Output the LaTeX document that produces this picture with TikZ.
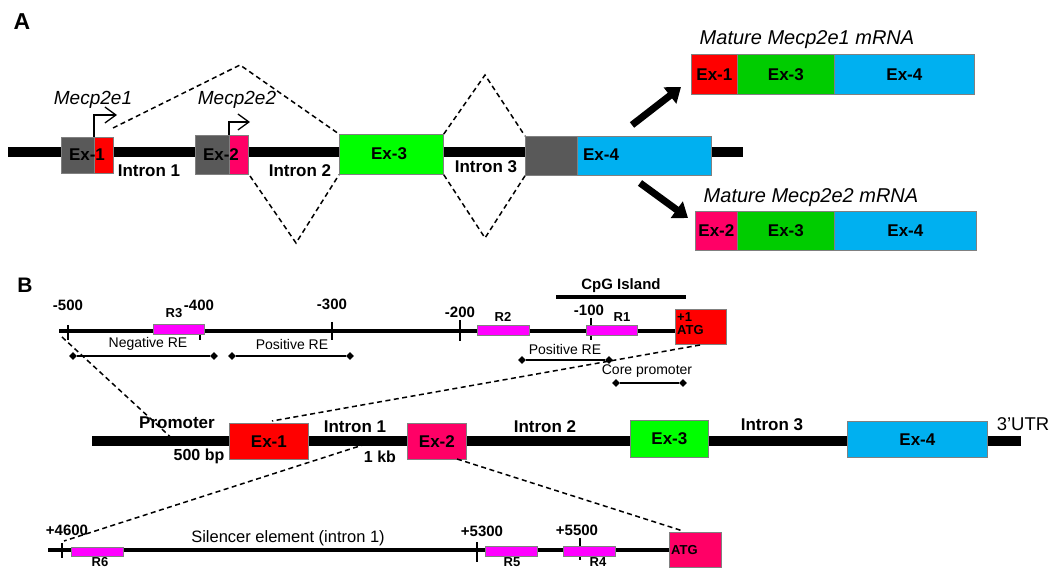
\documentclass[tikz,border=0pt]{standalone}
\usepackage{fontspec}
\setmainfont{Liberation Sans}
\usetikzlibrary{arrows.meta,shapes.geometric}
\definecolor{exred}{HTML}{FF0000}
\definecolor{expink}{HTML}{FF0066}
\definecolor{exgreen}{HTML}{00FF00}
\definecolor{mgreen}{HTML}{00CC00}
\definecolor{exblue}{HTML}{00B0F0}
\definecolor{exgrey}{HTML}{595959}
\definecolor{remag}{HTML}{FF00FF}
\definecolor{edge}{HTML}{808080}
\tikzset{
  box/.style={draw=edge, line width=0.8pt, inner sep=0pt, anchor=north west},
  rbox/.style={draw=edge, line width=0.6pt, fill=remag, inner sep=0pt, anchor=north west},
  dna/.style={line width=10pt, black},
  thin dna/.style={line width=4pt, black},
  tickmark/.style={line width=1.2pt, black},
  splice/.style={line width=1.5pt, dash pattern=on 5pt off 3.5pt},
  tss/.style={line width=1.3pt, -{Straight Barb[length=11pt,width=16pt,line width=1.3pt]}},
  bigarrow/.style={line width=7pt, -{Triangle[length=14pt,width=20pt]}},
  big/.style={font=\fontsize{17}{17}\selectfont\bfseries},
  itl/.style={font=\fontsize{19}{19}\selectfont\itshape},
  num/.style={font=\fontsize{15}{15}\selectfont\bfseries},
  rlab/.style={font=\fontsize{13}{13}\selectfont\bfseries},
  relab/.style={font=\fontsize{14}{14}\selectfont},
  panel/.style={font=\fontsize{23}{23}\selectfont\bfseries},
  dia/.style={diamond, fill=black, inner sep=0pt, minimum size=8pt},
  reline/.style={line width=1.2pt}
}
\begin{document}
\begin{tikzpicture}[x=1pt,y=-1pt]
\useasboundingbox (0,0) rectangle (1050,569);

% ---------------- Panel A: gene structure ----------------
\node[panel] (pA) at (22,22) {A};
\coordinate (gA1) at (8,152);
\coordinate (gA2) at (743,152);
\draw[dna] (gA1) -- (gA2);

\node[box, fill=exgrey, minimum width=33pt, minimum height=36pt] (e1g) at (61,137) {};
\node[box, fill=exred, minimum width=19pt, minimum height=36pt] (e1r) at (94,137) {};
\node[big] (t1) at (87,155) {Ex-1};
\node[box, fill=exgrey, minimum width=34pt, minimum height=39pt] (e2g) at (195,135) {};
\node[box, fill=expink, minimum width=19pt, minimum height=39pt] (e2p) at (229,135) {};
\node[big] (t2) at (221,155) {Ex-2};
\node[box, fill=exgreen, minimum width=104pt, minimum height=40pt] (e3) at (339,134) {};
\node[big] (t3) at (389,154) {Ex-3};
\node[box, fill=exgrey, minimum width=52pt, minimum height=39pt] (e4g) at (525,136) {};
\node[box, fill=exblue, minimum width=134pt, minimum height=39pt] (e4b) at (577,136) {};
\node[big] (t4) at (601,155) {Ex-4};

% promoters
\draw[tss] (e1r.north west) -- ++(0,-22) -- ++(23,0);
\draw[tss] (e2p.north west) -- ++(0,-13) -- ++(21,0);
\node[itl] (m1) at (93,100) {Mecp2e1};
\node[itl] (m2) at (237,100) {Mecp2e2};

\node[big] (i1) at (149,171) {Intron 1};
\node[big] (i2) at (300,171) {Intron 2};
\node[big] (i3) at (486,167) {Intron 3};

% splicing
\coordinate (s1a) at (113,128);
\coordinate (s1b) at (240,65);
\draw[splice] (s1a) -- (s1b) -- (e3.north west);
\coordinate (s2a) at (250,176);
\coordinate (s2b) at (296,243);
\draw[splice] (s2a) -- (s2b) -- (e3.south west);
\coordinate (s3b) at (485,75);
\draw[splice] (e3.north east) -- (s3b) -- (e4g.north west);
\coordinate (s4b) at (485,238);
\draw[splice] (e3.south east) -- (s4b) -- (e4g.south west);

% products
\coordinate (a1s) at (632,125);
\coordinate (a1e) at (681,87);
\draw[bigarrow] (a1s) -- (a1e);
\coordinate (a2s) at (640,183);
\coordinate (a2e) at (688,218);
\draw[bigarrow] (a2s) -- (a2e);

\node[itl, font=\fontsize{20}{20}\selectfont\itshape] (mt1) at (807,40) {Mature Mecp2e1 mRNA};
\node[box, fill=exred, minimum width=46pt, minimum height=40pt] (r1a) at (691,54) {};
\node[box, fill=mgreen, minimum width=97pt, minimum height=40pt] (r1b) at (737,54) {};
\node[box, fill=exblue, minimum width=140pt, minimum height=40pt] (r1c) at (834,54) {};
\node[big] at (r1a) {Ex-1};
\node[big] at (r1b) {Ex-3};
\node[big] at (r1c) {Ex-4};

\node[itl, font=\fontsize{20}{20}\selectfont\itshape] (mt2) at (811,198) {Mature Mecp2e2 mRNA};
\node[box, fill=expink, minimum width=42pt, minimum height=39pt] (r2a) at (695,211) {};
\node[box, fill=mgreen, minimum width=97pt, minimum height=39pt] (r2b) at (737,211) {};
\node[box, fill=exblue, minimum width=142pt, minimum height=39pt] (r2c) at (834,211) {};
\node[big] at (r2a) {Ex-2};
\node[big] at (r2b) {Ex-3};
\node[big] at (r2c) {Ex-4};

% ---------------- Panel B ----------------
\node[panel, font=\fontsize{21}{21}\selectfont\bfseries] (pB) at (25,285) {B};

% promoter detail
\coordinate (p1) at (59,331);
\coordinate (p2) at (675,331);
\draw[thin dna] (p1) -- (p2);
\draw[tickmark] (68,325) -- (68,340);
\draw[tickmark] (200,324) -- (200,340);
\draw[tickmark] (332,322) -- (332,340);
\draw[tickmark] (460,320) -- (460,341);
\draw[tickmark] (591,318) -- (591,340);
\node[num] at (68,305) {-500};
\node[num] at (199,305) {-400};
\node[num] at (332,304) {-300};
\node[num] at (460,312) {-200};
\node[num] at (589,310) {-100};

\node[rbox, minimum width=51pt, minimum height=10pt] (R3) at (153,324) {};
\node[rlab] at (174,313) {R3};
\node[rbox, minimum width=52pt, minimum height=10pt] (R2) at (477,325) {};
\node[rlab] at (503,317) {R2};
\node[rbox, minimum width=51pt, minimum height=10pt] (R1) at (586,325) {};
\node[rlab] at (622,317) {R1};

\coordinate (cpg1) at (556,297);
\coordinate (cpg2) at (686,297);
\draw[thin dna] (cpg1) -- (cpg2);
\node[num] at (621,286) {CpG Island};

\node[box, fill=exred, minimum width=51pt, minimum height=35pt] (atg1) at (675,309) {};
\node[rlab, anchor=north west, inner sep=0pt, align=left, font=\fontsize{13}{13}\selectfont\bfseries]
  at ([shift={(2,3)}]atg1.north west) {+1\\ATG};

\node[dia] (n1) at (73,356) {};
\node[dia] (n2) at (214,356) {};
\draw[reline] (n1) -- (n2);
\node[relab] at (148,344) {Negative RE};
\node[dia] (q1) at (232,356) {};
\node[dia] (q2) at (350,356) {};
\draw[reline] (q1) -- (q2);
\node[relab] at (292,344) {Positive RE};
\node[dia] (u1) at (522,360) {};
\node[dia] (u2) at (609,360) {};
\draw[reline] (u1) -- (u2);
\node[relab] at (565,349) {Positive RE};
\node[dia] (c1) at (616,383) {};
\node[dia] (c2) at (683,383) {};
\draw[reline] (c1) -- (c2);
\node[relab] at (647,371) {Core promoter};

% whole gene
\coordinate (g1) at (92,441);
\coordinate (g2) at (1021,441);
\draw[dna] (g1) -- (g2);
\node[box, fill=exred, minimum width=79pt, minimum height=36pt] (E1) at (229,423) {};
\node[big] at (E1) {Ex-1};
\node[box, fill=expink, minimum width=59pt, minimum height=36pt] (E2) at (407,423) {};
\node[big] at (E2) {Ex-2};
\node[box, fill=exgreen, minimum width=78pt, minimum height=37pt] (E3) at (630,420) {};
\node[big] at (E3) {Ex-3};
\node[box, fill=exblue, minimum width=140pt, minimum height=36pt] (E4) at (847,421) {};
\node[big] at (E4) {Ex-4};

\node[big] at (177,423) {Promoter};
\node[num, font=\fontsize{16}{16}\selectfont\bfseries] at (199,456) {500 bp};
\node[big] at (355,427) {Intron 1};
\node[num, font=\fontsize{16}{16}\selectfont\bfseries] at (380,457) {1 kb};
\node[big] at (545,427) {Intron 2};
\node[big] at (772,425) {Intron 3};
\node[font=\fontsize{18.5}{18.5}\selectfont] at (1023,424) {3'UTR};

% zoom guides
\coordinate (z1a) at (62,337);
\coordinate (z1b) at (177,443);
\draw[splice] (z1a) -- (z1b);
\coordinate (z2a) at (700,345);
\coordinate (z2b) at (272,421);
\draw[splice] (z2a) -- (z2b);
\coordinate (z3a) at (366,444);
\coordinate (z3b) at (64,541);
\draw[splice] (z3a) -- (z3b);

% intron 1 detail
\coordinate (b1) at (48,550);
\coordinate (b2) at (669,550);
\draw[thin dna] (b1) -- (b2);
\draw[tickmark] (62,543) -- (62,558);
\draw[tickmark] (477,542) -- (477,562);
\draw[tickmark] (580,538) -- (580,560);
\node[num] at (67,530) {+4600};
\node[num] at (482,531) {+5300};
\node[num] at (577,530) {+5500};
\node[rbox, minimum width=52pt, minimum height=9pt] (R6) at (71,547) {};
\node[rlab] at (100,562) {R6};
\node[rbox, minimum width=52pt, minimum height=10pt] (R5) at (485,546) {};
\node[rlab] at (512,562) {R5};
\node[rbox, minimum width=52pt, minimum height=10pt] (R4) at (563,546) {};
\node[rlab] at (598,562) {R4};
\node[font=\fontsize{16.5}{16.5}\selectfont] at (288,538) {Silencer element (intron 1)};

\node[box, fill=expink, minimum width=52pt, minimum height=35pt] (atg2) at (669,532) {};
\node[rlab, anchor=west, inner sep=0pt] at ([xshift=2pt]atg2.west) {ATG};

\coordinate (z4a) at (457,459);
\coordinate (z4b) at (683,531);
\draw[splice] (z4a) -- (z4b);
\end{tikzpicture}
\end{document}
